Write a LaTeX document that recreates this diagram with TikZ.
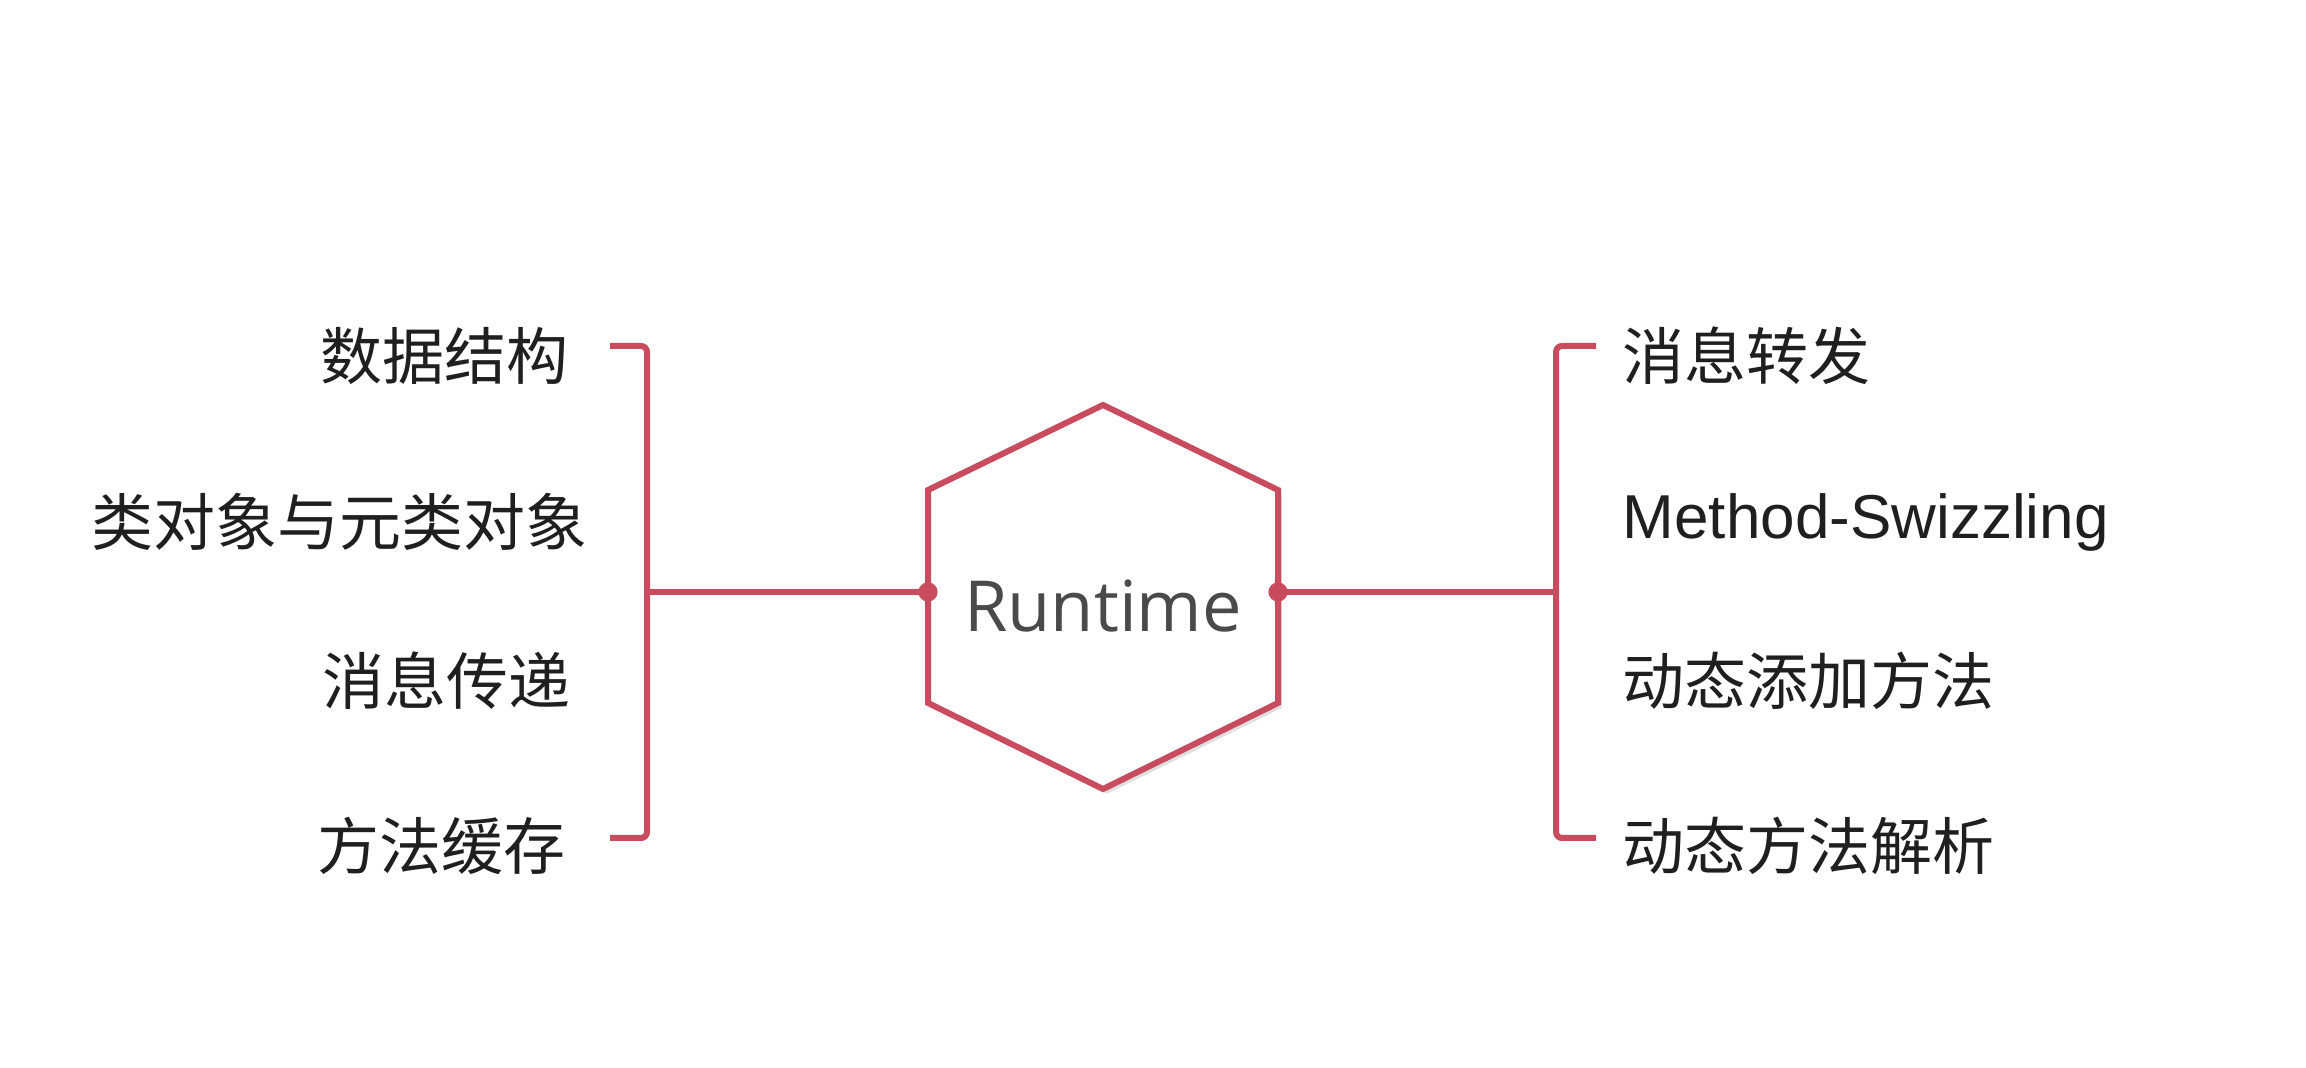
\documentclass[tikz,border=0pt]{standalone}
\usepackage{fontspec}
\setmainfont{Liberation Sans}
\newfontfamily\cjk{Noto Sans CJK SC}
\newfontfamily\hexfont{Open Sans}
\usetikzlibrary{shadows}
\definecolor{branchred}{HTML}{C94B5E}
\definecolor{inkgray}{HTML}{4A4A4A}

\begin{document}
\begin{tikzpicture}[x=0.25pt,y=-0.25pt,
    branch/.style={draw=branchred,line width=1.5pt,rounded corners=1.5pt},
    hexline/.style={draw=branchred,line width=1.5pt,fill=white,
      drop shadow={shadow xshift=1pt,shadow yshift=-1.2pt,opacity=0.25}},
    leftitem/.style={anchor=east,inner sep=0pt,font=\cjk\fontsize{15.5}{18}\selectfont,text=black!88},
    rightitem/.style={anchor=west,inner sep=0pt,font=\cjk\fontsize{15.5}{18}\selectfont,text=black!88},
    hub/.style={fill=branchred}]
  \useasboundingbox[fill=white] (0,0) rectangle (2306,1068);

  \draw[hexline] (1103,405) -- (1278,490) -- (1278,703) -- (1103,789)
    -- (928,703) -- (928,490) -- cycle;
  \node[font=\hexfont\fontsize{17.6}{20}\selectfont,text=inkgray] (rt) at (1103,606) {Runtime};
  \coordinate (rtL) at (928,592);
  \coordinate (rtR) at (1278,592);

  \node[leftitem] (l1) at (569,356) {数据结构};
  \node[leftitem] (l2) at (588,522) {类对象与元类对象};
  \node[leftitem] (l3) at (571,681) {消息传递};
  \node[leftitem] (l4) at (566,846) {方法缓存};

  \node[rightitem] (r1) at (1622,356) {消息转发};
  \node[rightitem,font=\normalfont\fontsize{15.5}{18}\selectfont] (r2) at (1622,522) {Method-Swizzling};
  \node[rightitem] (r3) at (1622,681) {动态添加方法};
  \node[rightitem] (r4) at (1622,846) {动态方法解析};

  \coordinate (lb) at (647,592);
  \coordinate (la1) at (610,346);
  \coordinate (la4) at (610,838);
  \coordinate (rb) at (1556,592);
  \coordinate (ra1) at (1596,346);
  \coordinate (ra4) at (1596,838);

  \draw[branch] (la1) -| (lb) |- (la4);
  \draw[branch] (ra1) -| (rb) |- (ra4);
  \draw[branch] (rtL) -- (lb);
  \draw[branch] (rtR) -- (rb);

  \fill[hub] (rtL) circle (2.4pt);
  \fill[hub] (rtR) circle (2.4pt);
\end{tikzpicture}
\end{document}
